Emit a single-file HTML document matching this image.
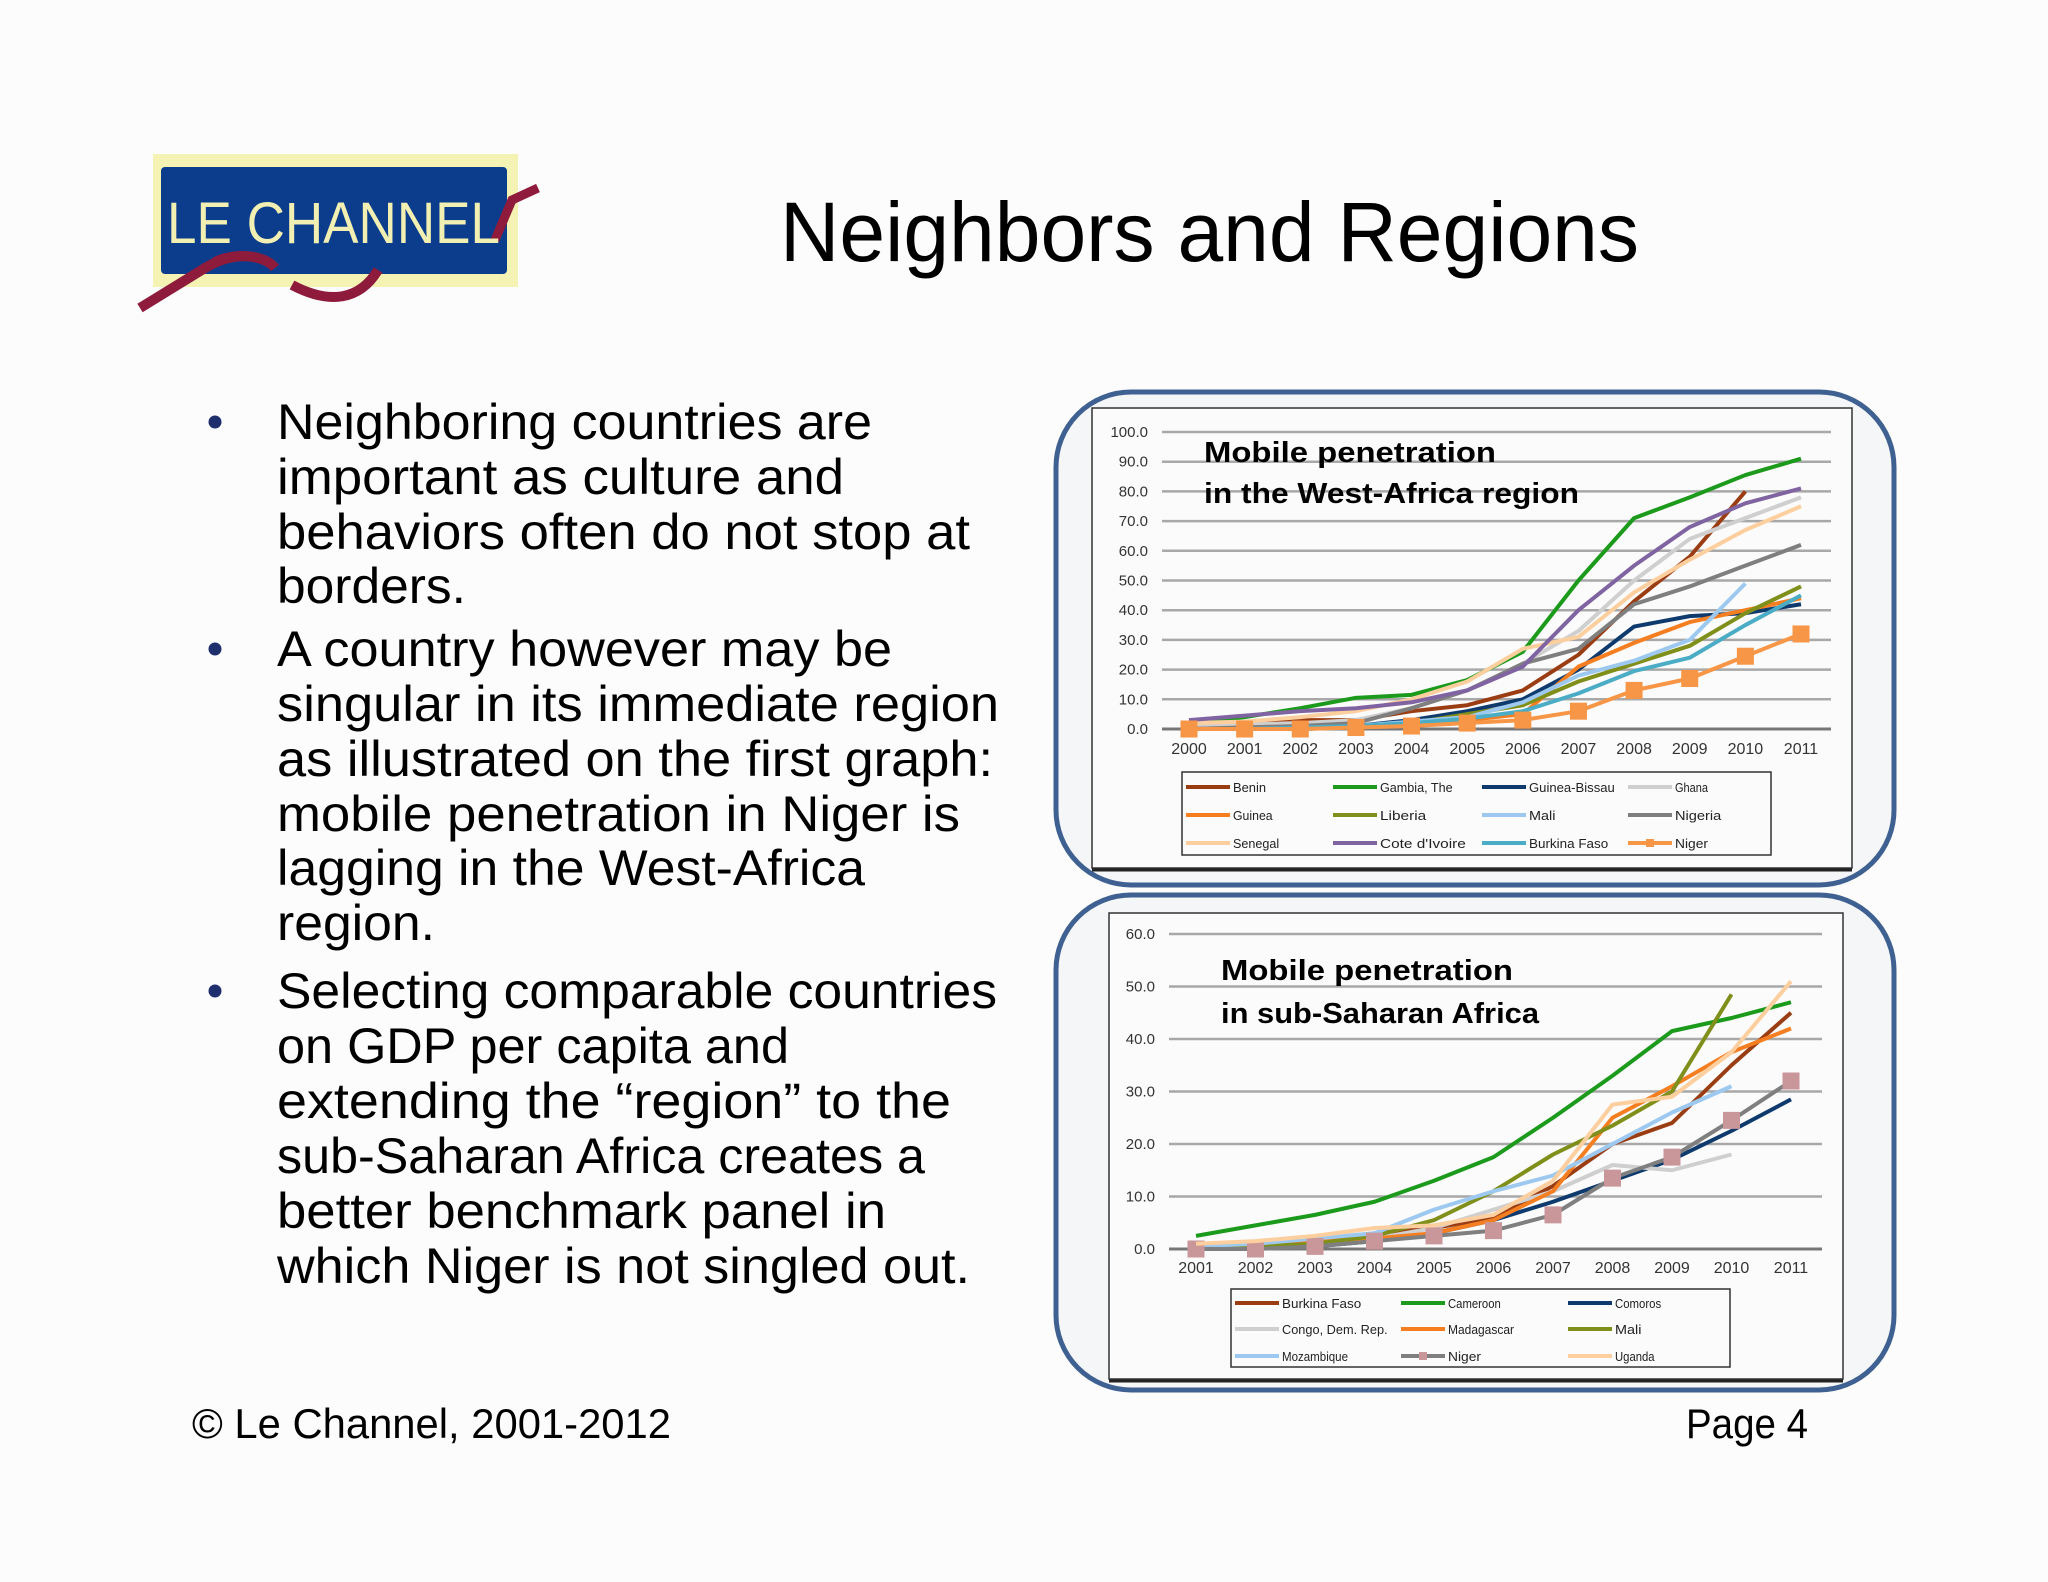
<!DOCTYPE html>
<html><head><meta charset="utf-8"><style>
html,body{margin:0;padding:0;background:#fcfcfc;}
svg{display:block;}
text{font-family:"Liberation Sans",sans-serif;}
</style></head><body>
<svg id="s" width="2048" height="1582" viewBox="0 0 2048 1582" xmlns="http://www.w3.org/2000/svg">
<rect x="0" y="0" width="2048" height="1582" fill="#fcfcfc"/>
<g>
<rect x="153" y="154" width="365" height="133" fill="#f4f3b4"/>
<rect x="161" y="167" width="346" height="107" rx="4" fill="#0c3d8c"/>
<path d="M140 308 L205 268 C235 250 265 255 275 268 C265 255 235 252 215 262" stroke="#8e1b3c" stroke-width="10" fill="none"/>
<path d="M292 285 C330 305 360 300 378 270" stroke="#8e1b3c" stroke-width="10" fill="none"/>
<path d="M495 240 L512 200 L538 188" stroke="#8e1b3c" stroke-width="9" fill="none"/>
<text x="167" y="243" font-size="58" fill="#f2efb2" textLength="333" lengthAdjust="spacingAndGlyphs">LE CHANNEL</text>
</g>
<text x="780" y="261" font-size="84" fill="#000" textLength="859" lengthAdjust="spacingAndGlyphs">Neighbors and Regions</text>
<g id="bullets"></g>
<text x="192" y="1438" font-size="42" fill="#000" textLength="479" lengthAdjust="spacingAndGlyphs">© Le Channel, 2001-2012</text>
<text x="1686" y="1438" font-size="42" fill="#000" textLength="122" lengthAdjust="spacingAndGlyphs">Page 4</text>
<g id="chart1"></g>
<g id="chart2"></g>
</svg>
<script>
// ---- chart 1 data ----
const years1 = ["2000","2001","2002","2003","2004","2005","2006","2007","2008","2009","2010","2011"];
const yTicks1 = [0,10,20,30,40,50,60,70,80,90,100];
const names1 = ["Benin","Gambia, The","Guinea-Bissau","Ghana","Guinea","Liberia","Mali","Nigeria","Senegal","Cote d'Ivoire","Burkina Faso","Niger"];
const benin1 = [0.5,1.5,3,3,6,8,13,25,43,58,80,null];
const gambia1 = [1.5,4,7,10.5,11.5,16.5,26,50,71,78,85.5,91];
const guineaBissau1 = [0,0,0.5,1,3,6,10,20,34.5,38,39,42];
const ghana1 = [1,1.5,2,3,7,13,22,33,50,64,71,78];
const guinea1 = [0,0.5,1,1,2,3,5,21,29,36,40,44];
const liberia1 = [0,0,0,0.5,2,5,8,16,22,28,39,48];
const mali1 = [0,0,0.5,1,2.5,4,9,18,23,30,49,null];
const nigeria1 = [0,0.5,1,2,7,13,22,27,42,48,55,62];
const senegal1 = [2,2.5,4,6,10,16,27,31,46,57,67,75];
const cote1 = [3,4.5,6,7,9,13,21,40,55,68,76,81];
const burkina1 = [0,0,0.5,1,2,3.5,6,12,19.5,24,35,45];
const niger1 = [0,0,0,0.5,1,2,3,6,13,17,24.5,32];
// ---- chart 2 data ----
const years2 = ["2001","2002","2003","2004","2005","2006","2007","2008","2009","2010","2011"];
const yTicks2 = [0,10,20,30,40,50,60];
const names2 = ["Burkina Faso","Cameroon","Comoros","Congo, Dem. Rep.","Madagascar","Mali","Mozambique","Niger","Uganda"];
const burkina2 = [0.5,1,1.5,3,4,6,12,20,24,35,45];
const cameroon2 = [2.5,4.5,6.5,9,13,17.5,25,33,41.5,44,47];
const comoros2 = [0,0.5,0.5,1.5,3,5.5,9,13,17,22.5,28.5];
const congo2 = [0.5,0.5,1,2,4,7.5,11,16,15,18,null];
const madagascar2 = [0.5,0.5,1.5,2,3,5.5,11,25,31,37.5,42];
const mali2 = [0.5,0.5,1,2.5,5.5,11,18,23.5,30,48.5,null];
const mozambique2 = [0.5,1,2,3,7.5,11,14,20,26,31,null];
const niger2 = [0,0,0.5,1.5,2.5,3.5,6.5,13.5,17.5,24.5,32];
const uganda2 = [1,1.5,2.5,4,4.5,6.5,13,27.5,29,37.5,51];

const NS="http://www.w3.org/2000/svg";
function mk(tag,attrs,parent){const e=document.createElementNS(NS,tag);for(const k in attrs)e.setAttribute(k,attrs[k]);parent.appendChild(e);return e;}

const lines=[
["Neighboring countries are",439,595,true],["important as culture and",494,567],["behaviors often do not stop at",549,693],["borders.",603,189],
["A country however may be",666,615,true],["singular in its immediate region",721,722],["as illustrated on the first graph:",776,716],["mobile penetration in Niger is",831,683],["lagging in the West-Africa",885,588],["region.",940,158],
["Selecting comparable countries",1008,720,true],["on GDP per capita and",1063,512],["extending the \u201cregion\u201d to the",1118,674],["sub-Saharan Africa creates a",1173,648],["better benchmark panel in",1228,609],["which Niger is not singled out.",1283,693]];
const bg=document.getElementById('bullets');
lines.forEach(l=>{
  const t=mk('text',{x:277,y:l[1],'font-size':50,fill:'#000',textLength:l[2],lengthAdjust:'spacingAndGlyphs'},bg);
  
  
  t.textContent=l[0];
  if(l[3]){const c=mk('circle',{cx:215,cy:l[1]-17,r:6.5,fill:'#1f2f6e'},bg);
    
    }
});

function chart(g,cfg){
  const o=mk('rect',{x:cfg.ox,y:cfg.oy,width:cfg.ow,height:cfg.oh,rx:75,fill:'#f5f6f8',stroke:'#3f6192','stroke-width':5},g);
  
  
  const inn=mk('rect',{x:cfg.ix,y:cfg.iy,width:cfg.iw,height:cfg.ih,fill:'#fbfbfb',stroke:'#333','stroke-width':1.5},g);
  
  
  mk('line',{x1:cfg.ix,y1:cfg.iy+cfg.ih+2,x2:cfg.ix+cfg.iw,y2:cfg.iy+cfg.ih+2,stroke:'#222','stroke-width':3},g);
  const ymax=cfg.ticks[cfg.ticks.length-1];
  const Y=v=>cfg.y0-(v/ymax)*(cfg.y0-cfg.y1);
  const X=i=>cfg.xa+i*(cfg.xb-cfg.xa)/(cfg.cats.length-1);
  cfg.ticks.forEach(t=>{
    const l=mk('line',{x1:cfg.gx0,x2:cfg.gx1,y1:Y(t),y2:Y(t),stroke:t===0?'#777':'#a8a8a8','stroke-width':t===0?3:2.5},g);
    
    
    const tx=mk('text',{x:cfg.lx,y:Y(t)+5,'font-size':15,'text-anchor':'end',fill:'#333'},g);
    
    
    tx.textContent=t.toFixed(1);
  });
  cfg.cats.forEach((c,i)=>{
    const tx=mk('text',{x:X(i),y:cfg.xly,'font-size':16,'text-anchor':'middle',fill:'#333'},g);
    
    
    tx.textContent=c;
  });
  cfg.series.forEach((s,k)=>{
    let d='';let started=false;
    s.data.forEach((v,i)=>{if(v===null)return;d+=(started?'L':'M')+X(i)+' '+Y(v)+' ';started=true;});
    const p=mk('path',{d:d,fill:'none',stroke:s.color,'stroke-width':4,'stroke-linejoin':'round'},g);
    
    
    if(s.marker){s.data.forEach((v,i)=>{if(v===null)return;
      const r=mk('rect',{x:X(i)-8.5,y:Y(v)-8.5,width:17,height:17,fill:s.marker},g);
      
      });}
  });
  cfg.title.forEach((t,i)=>{
    const tx=mk('text',{x:cfg.tx,y:cfg.ty[i],'font-size':29,'font-weight':'bold',fill:'#000',textLength:cfg.tl[i],lengthAdjust:'spacingAndGlyphs'},g);
    
    
    tx.textContent=t;
  });
  const lg=mk('rect',{x:cfg.lgx,y:cfg.lgy,width:cfg.lgw,height:cfg.lgh,fill:'#fbfbfb',stroke:'#333','stroke-width':1.5},g);
  
  
  cfg.series.forEach((s,k)=>{
    const col=k%cfg.lcols, row=Math.floor(k/cfg.lcols);
    const x=cfg.lcx[col], y=cfg.lry[row];
    const ll=mk('line',{x1:x,x2:x+44,y1:y,y2:y,stroke:s.color,'stroke-width':4},g);
    
    
    if(s.marker){mk('rect',{x:x+18,y:y-4,width:8,height:8,fill:s.marker},g);}
    const tx=mk('text',{x:x+47,y:y+5,'font-size':13,fill:'#222',textLength:s.name.length*6.6,lengthAdjust:'spacingAndGlyphs'},g);
    
    
    tx.textContent=s.name;
  });
}
const c1=[benin1,gambia1,guineaBissau1,ghana1,guinea1,liberia1,mali1,nigeria1,senegal1,cote1,burkina1,niger1];
const col1=['#9b3d12','#1c9a1c','#0e3a6e','#cfcfcf','#f57e20','#7f8f1a','#9dc9f0','#7f7f7f','#fdcf9e','#8064a2','#4bacc6','#f79646'];
chart(document.getElementById('chart1'),{ox:1056,oy:392,ow:838,oh:493,ix:1092,iy:408,iw:760,ih:460,
  y0:729,y1:432,xa:1189,xb:1801,gx0:1162,gx1:1831,lx:1148,xly:754,cats:years1,ticks:yTicks1,
  series:c1.map((d,i)=>({data:d,color:col1[i],name:names1[i],marker:i===11?'#f79646':null})),
  title:["Mobile penetration","in the West-Africa region"],tx:1204,ty:[462,503],tl:[292,375],
  lgx:1182,lgy:772,lgw:589,lgh:83,lcols:4,lcx:[1186,1333,1482,1628],lry:[787,815,843]});
const c2=[burkina2,cameroon2,comoros2,congo2,madagascar2,mali2,mozambique2,niger2,uganda2];
const col2=['#9b3d12','#1c9a1c','#0e3a6e','#cfcfcf','#f57e20','#7f8f1a','#9dc9f0','#7f7f7f','#fdcf9e'];
chart(document.getElementById('chart2'),{ox:1056,oy:895,ow:838,oh:495,ix:1109,iy:913,iw:734,ih:466,
  y0:1249,y1:934,xa:1196,xb:1791,gx0:1169,gx1:1822,lx:1155,xly:1273,cats:years2,ticks:yTicks2,
  series:c2.map((d,i)=>({data:d,color:col2[i],name:names2[i],marker:i===7?'#c9969a':null})),
  title:["Mobile penetration","in sub-Saharan Africa"],tx:1221,ty:[980,1023],tl:[292,318],
  lgx:1231,lgy:1289,lgw:499,lgh:78,lcols:3,lcx:[1235,1401,1568],lry:[1303,1329,1356]});
</script>
</body></html>
